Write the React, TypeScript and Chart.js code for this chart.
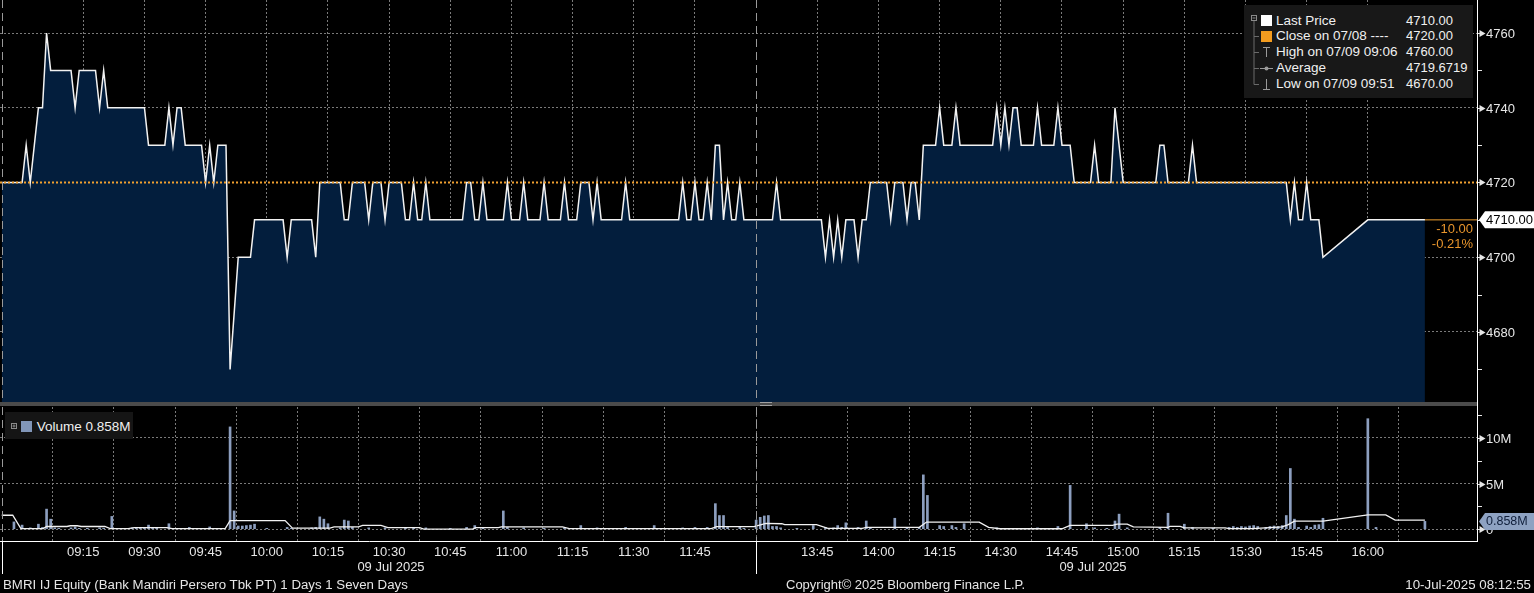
import React, { useEffect, useRef } from 'react';
import { Chart, registerables } from 'chart.js';

Chart.register(...registerables);

const FONT = '"Liberation Sans", Arial, Helvetica, sans-serif';

// ---- data ----
const firstMinute = -5; // trading minutes from 09:00, lunch break removed (08:55 pre-open)
const prevClose = 4720;
const lastPrice = 4710;

// last price per minute (k = -5 .. 344)
const price: (number | null)[] = [
  4720, 4720, 4720, 4720, 4720, 4720, 4730, 4720, 4730, 4740,
  4740, 4760, 4750, 4750, 4750, 4750, 4750, 4750, 4740, 4750,
  4750, 4750, 4750, 4750, 4740, 4750, 4740, 4740, 4740, 4740,
  4740, 4740, 4740, 4740, 4740, 4740, 4730, 4730, 4730, 4730,
  4730, 4740, 4730, 4740, 4740, 4730, 4730, 4730, 4730, 4730,
  4720, 4730, 4720, 4730, 4730, 4730, 4670, null, 4700, 4700,
  4700, 4700, 4710, 4710, 4710, 4710, 4710, 4710, 4710, 4710,
  4700, 4710, 4710, 4710, 4710, 4710, 4710, 4700, 4720, 4720,
  4720, 4720, 4720, 4720, 4710, 4710, 4720, 4720, 4720, 4720,
  4710, 4720, 4720, 4720, 4710, 4720, 4720, 4720, 4720, 4710,
  4710, 4720, 4710, 4710, 4720, 4710, 4710, 4710, 4710, 4710,
  4710, 4710, 4710, 4710, 4720, 4720, 4710, 4710, 4720, 4710,
  4710, 4710, 4710, 4710, 4720, 4710, 4710, 4710, 4720, 4710,
  4710, 4710, 4710, 4720, 4710, 4710, 4710, 4710, 4720, 4710,
  4710, 4710, 4720, 4720, 4720, 4710, 4720, 4710, 4710, 4710,
  4710, 4710, 4710, 4720, 4710, 4710, 4710, 4710, 4710, 4710,
  4710, 4710, 4710, 4710, 4710, 4710, 4710, 4720, 4710, 4710,
  4720, 4710, 4710, 4720, 4710, 4730, 4730, 4710, 4720, 4710,
  4710, 4720, 4710, 4710, 4710, 4710, 4710, 4710, 4710, 4710,
  4720, 4710, 4710, 4710, 4710, 4710, 4710, 4710, 4710, 4710,
  4710, 4710, 4700, 4710, 4700, 4710, 4700, 4710, 4710, 4710,
  4700, 4710, 4710, 4720, 4720, 4720, 4720, 4720, 4710, 4720,
  4720, 4720, 4710, 4720, 4720, 4710, 4730, 4730, 4730, 4730,
  4740, 4730, 4730, 4730, 4740, 4730, 4730, 4730, 4730, 4730,
  4730, 4730, 4730, 4730, 4740, 4730, 4740, 4730, 4740, 4740,
  4730, 4730, 4730, 4730, 4740, 4730, 4730, 4730, 4730, 4740,
  4730, 4730, 4730, 4720, 4720, 4720, 4720, 4720, 4730, 4720,
  4720, 4720, 4720, 4740, 4730, 4720, 4720, 4720, 4720, 4720,
  4720, 4720, 4720, 4720, 4730, 4730, 4720, 4720, 4720, 4720,
  4720, 4720, 4730, 4720, 4720, 4720, 4720, 4720, 4720, 4720,
  4720, 4720, 4720, 4720, 4720, 4720, 4720, 4720, 4720, 4720,
  4720, 4720, 4720, 4720, 4720, 4720, 4710, 4720, 4710, 4710,
  4720, 4710, 4710, 4710, 4700, null, null, null, null, null,
  null, null, null, null, null, 4710, 4710, 4710, 4710, 4710,
  4710, 4710, 4710, 4710, 4710, 4710, 4710, 4710, 4710, 4710,
];

// volume per minute in millions (k = -5 .. 344)
const volume: number[] = [
  0, 0, 0, 0.8, 0, 0.45, 0.1, 0.15, 0, 0.55,
  0.2, 2.2, 1.1, 0.15, 0.1, 0, 0, 0.15, 0.25, 0.1,
  0, 0.1, 0, 0, 0.15, 0.1, 0, 1.4, 0, 0,
  0.1, 0, 0.15, 0.2, 0.15, 0.2, 0.45, 0.15, 0.1, 0,
  0, 0.6, 0.1, 0, 0, 0, 0.2, 0, 0, 0.1,
  0, 0.25, 0, 0, 0, 0, 11.2, 2.0, 0.35, 0.35,
  0.4, 0.45, 0.55, 0, 0, 0.1, 0, 0, 0, 0,
  0.2, 0.1, 0, 0, 0, 0, 0.15, 0.2, 1.35, 1.1,
  0.6, 0, 0, 0.15, 1.0, 0.9, 0.2, 0, 0, 0,
  0.15, 0, 0, 0, 0.15, 0, 0, 0, 0, 0.2,
  0, 0.1, 0, 0, 0.15, 0, 0, 0, 0, 0,
  0.1, 0, 0, 0, 0.2, 0, 0.4, 0, 0.15, 0,
  0, 0, 0, 2.0, 0.2, 0, 0, 0, 0.15, 0,
  0, 0, 0, 0.1, 0, 0, 0, 0, 0.15, 0,
  0, 0, 0.4, 0, 0, 0, 0.15, 0, 0, 0,
  0, 0, 0, 0.2, 0, 0, 0, 0, 0, 0,
  0.4, 0, 0, 0.1, 0, 0, 0, 0.15, 0, 0,
  0.2, 0, 0, 0.2, 0, 2.8, 1.5, 1.5, 0.2, 0,
  0, 0.3, 0.1, 0, 0, 1.0, 1.3, 1.45, 1.5, 0.3,
  0.3, 0.15, 0, 0, 0, 0.1, 0, 0, 0, 0.4,
  0, 0, 0.2, 0, 0.15, 0.4, 0.2, 0.7, 0, 0,
  0.2, 0, 0.9, 0.2, 0, 0, 0, 0, 0, 1.2,
  0, 0, 0.15, 0, 0, 0.2, 5.95, 3.7, 0, 0,
  0.4, 0.3, 0, 0.4, 0.2, 0, 0.6, 0, 0, 0,
  0, 0, 0, 0, 0.15, 0, 0.1, 0, 0, 0,
  0, 0, 0, 0, 0.15, 0, 0, 0, 0, 0.3,
  0, 0, 4.8, 0, 0, 0, 0.6, 0, 0.15, 0,
  0, 0.1, 0, 0.9, 1.65, 0, 0.15, 0, 0, 0,
  0, 0, 0, 0, 0.2, 0, 1.75, 0, 0, 0,
  0.55, 0, 0.2, 0, 0, 0, 0, 0.1, 0, 0,
  0, 0.2, 0.3, 0.2, 0.3, 0.25, 0.35, 0.4, 0.3, 0,
  0.2, 0.3, 0.35, 0.3, 0.4, 1.5, 6.65, 1.1, 0.2, 0,
  0.35, 0.2, 0.45, 0.5, 1.2, 0, 0, 0, 0, 0,
  0, 0, 0, 0, 0, 12.1, 0, 0.2, 0, 0,
  0, 0, 0, 0, 0, 0, 0, 0, 0, 0.858,
];

// white volume average line (read points)
const avgMinutes = [-5, -2.3, -0.3, 5.2, 6, 11, 11.8, 13.5, 14.5, 20.3, 21.6, 26, 27.5, 35.5, 36.8, 49.8, 51, 64.5, 66.3, 75.5, 76.5, 82.5, 83.5, 88, 89.7, 97.5, 98.5, 110.5, 111.2, 116.8, 117.5, 132.5, 134.2, 169, 170.3, 179.5, 182.4, 186.3, 187, 194.8, 197.6, 206, 207, 220, 221.8, 234.7, 237, 239.8, 255, 257, 267.4, 268.5, 271, 272.5, 281, 281.5, 284, 285, 295, 296, 301.7, 309, 310.5, 312, 319, 330, 334.4, 336.7, 344];
const avgValues = [1.53, 1.53, 0.07, 0.07, 0.3, 0.3, 0.38, 0.38, 0.3, 0.3, 0.07, 0.07, 0.18, 0.18, 0.07, 0.07, 0.95, 0.95, 0.12, 0.12, 0.25, 0.25, 0.42, 0.42, 0.18, 0.18, 0.02, 0.02, 0.18, 0.18, 0.26, 0.26, 0.07, 0.07, 0.28, 0.28, 0.65, 0.6, 0.5, 0.5, 0.1, 0.1, 0.2, 0.2, 0.78, 0.78, 0.2, 0.05, 0.05, 0.42, 0.42, 0.55, 0.55, 0.25, 0.2, 0.32, 0.32, 0.15, 0.15, 0.07, 0.07, 0.25, 0.5, 0.88, 0.88, 1.57, 1.57, 0.99, 0.99];

const tickMinutes = [15, 30, 45, 60, 75, 90, 105, 120, 135, 150, 165, 195, 210, 225, 240, 255, 270, 285, 300, 315, 330];
const tickLabels = ['09:15', '09:30', '09:45', '10:00', '10:15', '10:30', '10:45', '11:00', '11:15', '11:30', '11:45', '13:45', '14:00', '14:15', '14:30', '14:45', '15:00', '15:15', '15:30', '15:45', '16:00'];
const sessionStarts = [-5, 180];

const priceMajor = [4680, 4700, 4720, 4740, 4760];
const priceMinor = [4670, 4690, 4710, 4730, 4750];
const volMajor = [0, 5, 10];
const volMajorLabels = ['0', '5M', '10M'];
const volMinor = [2.5, 7.5, 12.5];

const legendLabels = ['Last Price', 'Close on 07/08 ----', 'High on 07/09 09:06', 'Average', 'Low on 07/09 09:51'];
const legendValues = ['4710.00', '4720.00', '4760.00', '4719.6719', '4670.00'];

// ---- axis bounds ----
const X_MIN = -5.42;
const X_MAX = 356.77;
const P_MIN = 4661.27;
const P_MAX = 4768.83;
const V_MIN = -1.29;
const V_MAX = 13.38;

// ---- styles ----
const GRID = '#7a7a7a';
const FILL = '#031e3d';
const ORANGE = '#f0a030';
const ORANGE_TEXT = '#e8952c';
const BAR = '#8c9ebe';
const TEXT = '#e6e6e6';

const sessionPlugin = (below: number) => ({
  id: 'sessions',
  afterDatasetsDraw(chart: any) {
    const { ctx, chartArea: a, scales } = chart;
    const x = scales.x;
    ctx.save();
    ctx.lineWidth = 1;
    sessionStarts.forEach((m) => {
      const px = Math.round(x.getPixelForValue(m)) + 0.5;
      ctx.strokeStyle = '#9a9a9a';
      ctx.setLineDash([8, 5]);
      ctx.beginPath();
      ctx.moveTo(px, a.top);
      ctx.lineTo(px, a.bottom);
      ctx.stroke();
      if (below > 0) {
        ctx.setLineDash([]);
        ctx.strokeStyle = '#ffffff';
        ctx.beginPath();
        ctx.moveTo(px, a.bottom);
        ctx.lineTo(px, a.bottom + below);
        ctx.stroke();
      }
    });
    ctx.restore();
  },
});

function drawAxis(chart: any, majors: number[], labels: string[], minors: number[]) {
  const { ctx, chartArea: a, scales } = chart;
  const y = scales.y;
  const x0 = a.right;
  ctx.save();
  ctx.font = `13px ${FONT}`;
  ctx.textBaseline = 'middle';
  ctx.textAlign = 'left';
  ctx.fillStyle = TEXT;
  ctx.strokeStyle = TEXT;
  ctx.lineWidth = 1;
  majors.forEach((v, i) => {
    const py = Math.round(y.getPixelForValue(v)) + 0.5;
    ctx.beginPath();
    ctx.moveTo(x0 + 1, py);
    ctx.lineTo(x0 + 3, py);
    ctx.stroke();
    ctx.beginPath();
    ctx.moveTo(x0 + 2.5, py - 3.5);
    ctx.lineTo(x0 + 8.5, py);
    ctx.lineTo(x0 + 2.5, py + 3.5);
    ctx.closePath();
    ctx.fill();
    ctx.fillText(labels[i], x0 + 9, py + 0.5);
  });
  minors.forEach((v) => {
    const py = Math.round(y.getPixelForValue(v)) + 0.5;
    ctx.beginPath();
    ctx.moveTo(x0 + 1, py);
    ctx.lineTo(x0 + 5, py);
    ctx.stroke();
  });
  ctx.restore();
}

function drawValueBox(chart: any, value: number, text: string, bg: string, fg: string, size: number) {
  const { ctx, chartArea: a, scales } = chart;
  const py = scales.y.getPixelForValue(value);
  const x0 = a.right + 2;
  const h = 8.5;
  ctx.save();
  ctx.fillStyle = bg;
  ctx.beginPath();
  ctx.moveTo(x0, py);
  ctx.lineTo(x0 + 6, py - h);
  ctx.lineTo(chart.width, py - h);
  ctx.lineTo(chart.width, py + h);
  ctx.lineTo(x0 + 6, py + h);
  ctx.closePath();
  ctx.fill();
  ctx.fillStyle = fg;
  ctx.font = `${size}px ${FONT}`;
  ctx.textBaseline = 'middle';
  ctx.textAlign = 'left';
  ctx.fillText(text, a.right + 9, py + 0.5);
  ctx.restore();
}

const priceAxisPlugin = {
  id: 'priceAxis',
  afterDraw(chart: any) {
    drawAxis(chart, priceMajor, priceMajor.map((v) => String(v)), priceMinor);
    drawValueBox(chart, lastPrice, lastPrice.toFixed(2), '#ffffff', '#000000', 13);
    const { ctx, chartArea: a, scales } = chart;
    const py = scales.y.getPixelForValue(lastPrice);
    const chg = lastPrice - prevClose;
    const pct = (chg / prevClose) * 100;
    ctx.save();
    ctx.font = `13px ${FONT}`;
    ctx.fillStyle = ORANGE_TEXT;
    ctx.textAlign = 'right';
    ctx.textBaseline = 'middle';
    ctx.fillText(chg.toFixed(2), a.right - 4, py + 9.5);
    ctx.fillText(pct.toFixed(2) + '%', a.right - 4, py + 25);
    ctx.restore();
  },
};

const lastVolume = volume[volume.length - 1];

const volAxisPlugin = {
  id: 'volAxis',
  afterDraw(chart: any) {
    drawAxis(chart, volMajor, volMajorLabels, volMinor);
    drawValueBox(chart, lastVolume, lastVolume.toFixed(3) + 'M', '#8ea2c2', '#0f1e3a', 12.5);
  },
};

export default function App() {
  const priceRef = useRef<HTMLCanvasElement | null>(null);
  const volRef = useRef<HTMLCanvasElement | null>(null);

  useEffect(() => {
    document.body.style.margin = '0';
    document.body.style.background = '#000';

    const pricePts = price.map((p, i) => ({ x: firstMinute + i, y: p }));
    const lastMinute = firstMinute + price.length - 1;

    const priceChart = new Chart(priceRef.current as HTMLCanvasElement, {
      type: 'line',
      data: {
        datasets: [
          {
            label: 'Close',
            data: [{ x: X_MIN, y: prevClose }, { x: X_MAX, y: prevClose }],
            borderColor: ORANGE,
            borderWidth: 2,
            borderDash: [2, 2],
            pointRadius: 0,
            fill: false,
            order: 0,
          },
          {
            label: 'Tail',
            data: [{ x: lastMinute, y: lastPrice }, { x: X_MAX, y: lastPrice }],
            borderColor: ORANGE,
            borderWidth: 1,
            pointRadius: 0,
            fill: false,
            order: 1,
          },
          {
            label: 'Last Price',
            data: pricePts as any,
            borderColor: '#f2f2f2',
            borderWidth: 1.5,
            backgroundColor: FILL,
            fill: 'start',
            pointRadius: 0,
            spanGaps: true,
            tension: 0,
            order: 2,
          },
        ],
      },
      options: {
        animation: false,
        responsive: false,
        devicePixelRatio: 1,
        events: [],
        layout: { padding: 0 },
        plugins: { legend: { display: false }, tooltip: { enabled: false } },
        scales: {
          x: {
            type: 'linear',
            min: X_MIN,
            max: X_MAX,
            z: 1,
            afterBuildTicks: (s: any) => {
              s.ticks = tickMinutes.map((v) => ({ value: v }));
            },
            afterFit: (s: any) => {
              s.height = 0;
            },
            ticks: { display: false },
            grid: { color: GRID, drawTicks: false, lineWidth: 1 },
            border: { display: false, dash: [2, 2] },
          },
          y: {
            type: 'linear',
            position: 'right',
            min: P_MIN,
            max: P_MAX,
            z: 1,
            afterBuildTicks: (s: any) => {
              s.ticks = priceMajor.map((v) => ({ value: v }));
            },
            afterFit: (s: any) => {
              s.width = 57;
            },
            ticks: { display: false },
            grid: {
              color: (c: any) => (c.tick && c.tick.value === prevClose ? 'rgba(0,0,0,0)' : GRID),
              drawTicks: false,
              lineWidth: 1,
            },
            border: { display: true, color: '#ffffff', width: 1, dash: [2, 2] },
          },
        },
      } as any,
      plugins: [sessionPlugin(0), priceAxisPlugin],
    });

    const volPts = volume
      .map((v, i) => ({ x: firstMinute + i, y: v }))
      .filter((d) => d.y > 0);
    const avgPts = avgMinutes.map((m, i) => ({ x: m, y: avgValues[i] }));

    const volChart = new Chart(volRef.current as HTMLCanvasElement, {
      type: 'bar',
      data: {
        datasets: [
          {
            type: 'line',
            label: 'Average',
            data: avgPts as any,
            borderColor: '#f2f2f2',
            borderWidth: 1.3,
            pointRadius: 0,
            fill: false,
            tension: 0,
            order: 0,
          } as any,
          {
            type: 'bar',
            label: 'Volume',
            data: volPts as any,
            backgroundColor: BAR,
            barThickness: 2,
            order: 1,
          } as any,
        ],
      },
      options: {
        animation: false,
        responsive: false,
        devicePixelRatio: 1,
        events: [],
        layout: { padding: { top: 1, left: 0, right: 0, bottom: 0 } },
        plugins: { legend: { display: false }, tooltip: { enabled: false } },
        scales: {
          x: {
            type: 'linear',
            min: X_MIN,
            max: X_MAX,
            offset: false,
            afterBuildTicks: (s: any) => {
              s.ticks = tickMinutes.map((v) => ({ value: v }));
            },
            afterFit: (s: any) => {
              s.height = 52;
            },
            ticks: {
              callback: (_v: any, i: number) => tickLabels[i],
              color: TEXT,
              font: { family: FONT, size: 13 },
              maxRotation: 0,
              minRotation: 0,
              autoSkip: false,
              padding: 4,
            },
            grid: { color: GRID, drawTicks: false, lineWidth: 1 },
            border: { display: true, color: '#ffffff', width: 1, dash: [2, 2] },
          },
          y: {
            type: 'linear',
            position: 'right',
            min: V_MIN,
            max: V_MAX,
            afterBuildTicks: (s: any) => {
              s.ticks = volMajor.map((v) => ({ value: v }));
            },
            afterFit: (s: any) => {
              s.width = 57;
            },
            ticks: { display: false },
            grid: { color: GRID, drawTicks: false, lineWidth: 1 },
            border: { display: true, color: '#ffffff', width: 1, dash: [2, 2] },
          },
        },
      } as any,
      plugins: [sessionPlugin(33), volAxisPlugin],
    });

    return () => {
      priceChart.destroy();
      volChart.destroy();
    };
  }, []);

  const rowCenters = [15.3, 31, 46.7, 63, 79];

  return (
    <div
      style={{
        position: 'fixed',
        left: 0,
        top: 0,
        width: 1534,
        height: 593,
        background: '#000',
        overflow: 'hidden',
        fontFamily: FONT,
        color: TEXT,
      }}
    >
      <canvas
        ref={priceRef}
        width={1534}
        height={402}
        style={{ position: 'absolute', left: 0, top: 0, width: 1534, height: 402 }}
      />
      <div style={{ position: 'absolute', left: 0, top: 402, width: 1477, height: 4, background: '#4b4b4b' }} />
      <div
        style={{
          position: 'absolute',
          left: 760,
          top: 402,
          width: 12,
          height: 2,
          borderTop: '1px solid #a0a0a0',
          borderBottom: '1px solid #a0a0a0',
        }}
      />
      <div style={{ position: 'absolute', left: 1477, top: 402, width: 1, height: 5, background: '#ffffff' }} />
      <canvas
        ref={volRef}
        width={1534}
        height={187}
        style={{ position: 'absolute', left: 0, top: 406, width: 1534, height: 187 }}
      />

      {/* price legend */}
      <div style={{ position: 'absolute', left: 1244, top: 5, width: 229, height: 93, background: '#181818' }}>
        <svg width="229" height="93" style={{ position: 'absolute', left: 0, top: 0 }}>
          <rect x="7.5" y="10.5" width="5" height="5" fill="none" stroke="#8a8a8a" />
          <line x1="8.5" y1="13" x2="11.5" y2="13" stroke="#8a8a8a" />
          <line x1="10" y1="16" x2="10" y2="79.5" stroke="#6a6a6a" />
          {[31, 47, 63, 79].map((y) => (
            <line key={y} x1="10" y1={y + 0.5} x2="15" y2={y + 0.5} stroke="#6a6a6a" />
          ))}
          <rect x="17" y="10" width="11" height="11" fill="#ffffff" />
          <rect x="17" y="26" width="11" height="11" fill="#f39c1f" />
          <line x1="22.5" y1="42" x2="22.5" y2="52" stroke="#9a9a9a" />
          <line x1="19" y1="42.5" x2="26" y2="42.5" stroke="#9a9a9a" />
          <line x1="16" y1="63.5" x2="29" y2="63.5" stroke="#9a9a9a" />
          <circle cx="22.5" cy="63.5" r="2" fill="#9a9a9a" />
          <line x1="22.5" y1="74" x2="22.5" y2="84" stroke="#9a9a9a" />
          <line x1="19" y1="84.5" x2="26" y2="84.5" stroke="#9a9a9a" />
        </svg>
        {legendLabels.map((t, i) => (
          <div
            key={t}
            style={{
              position: 'absolute',
              left: 32,
              top: rowCenters[i] - 7.6,
              fontSize: 13.5,
              lineHeight: '16px',
              whiteSpace: 'pre',
              color: '#f0f0f0',
            }}
          >
            {t}
          </div>
        ))}
        {legendValues.map((t, i) => (
          <div
            key={t + i}
            style={{
              position: 'absolute',
              left: 162,
              top: rowCenters[i] - 7.6,
              fontSize: 13,
              lineHeight: '16px',
              whiteSpace: 'pre',
              color: '#f0f0f0',
            }}
          >
            {t}
          </div>
        ))}
      </div>

      {/* volume legend */}
      <div style={{ position: 'absolute', left: 5, top: 412, width: 128, height: 27, background: '#151515' }}>
        <svg width="128" height="27" style={{ position: 'absolute', left: 0, top: 0 }}>
          <rect x="6.5" y="11.5" width="5" height="5" fill="none" stroke="#8a8a8a" />
          <line x1="7.5" y1="14" x2="10.5" y2="14" stroke="#8a8a8a" />
          <line x1="9" y1="12.5" x2="9" y2="15.5" stroke="#8a8a8a" />
          <rect x="16" y="9" width="11" height="11" fill="#8196b8" />
        </svg>
        <div
          style={{
            position: 'absolute',
            left: 31.7,
            top: 7.2,
            fontSize: 13.5,
            lineHeight: '16px',
            whiteSpace: 'pre',
            color: '#f0f0f0',
          }}
        >
          {'Volume ' + lastVolume.toFixed(3) + 'M'}
        </div>
      </div>

      {/* date labels */}
      <div style={{ position: 'absolute', left: 391, top: 558.7, transform: 'translateX(-50%)', fontSize: 13, lineHeight: '15px', whiteSpace: 'pre' }}>
        09 Jul 2025
      </div>
      <div style={{ position: 'absolute', left: 1093, top: 558.7, transform: 'translateX(-50%)', fontSize: 13, lineHeight: '15px', whiteSpace: 'pre' }}>
        09 Jul 2025
      </div>

      {/* footer */}
      <div style={{ position: 'absolute', left: 3, top: 576.5, fontSize: 13.25, lineHeight: '15px', whiteSpace: 'pre' }}>
        BMRI IJ Equity (Bank Mandiri Persero Tbk PT) 1 Days 1 Seven Days
      </div>
      <div style={{ position: 'absolute', left: 786, top: 576.5, fontSize: 13, lineHeight: '15px', whiteSpace: 'pre' }}>
        Copyright© 2025 Bloomberg Finance L.P.
      </div>
      <div style={{ position: 'absolute', right: 3, top: 576.5, fontSize: 13.3, lineHeight: '15px', whiteSpace: 'pre' }}>
        10-Jul-2025 08:12:55
      </div>
    </div>
  );
}
